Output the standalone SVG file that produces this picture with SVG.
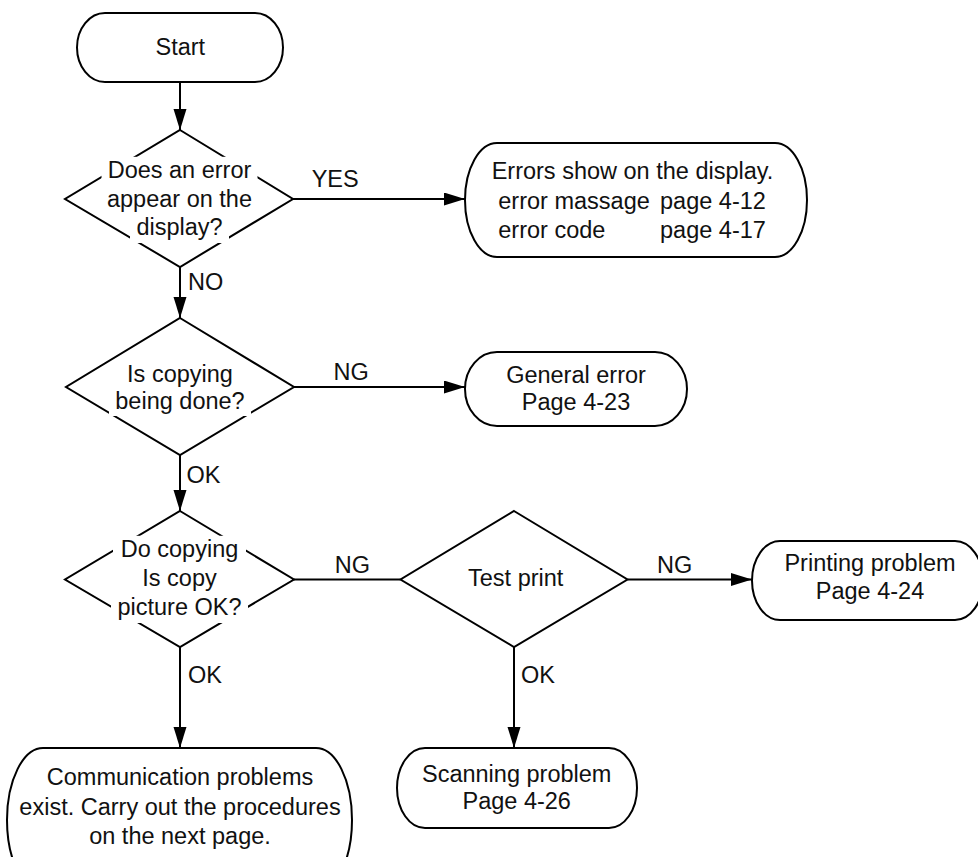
<svg xmlns="http://www.w3.org/2000/svg" width="978" height="857" viewBox="0 0 978 857">
<style>
.n{fill:#fff;stroke:#000;stroke-width:2}
.c{stroke:#000;stroke-width:2;fill:none}
.w{fill:#fff;stroke:none}
text{font-family:"Liberation Sans",Arial,Helvetica,sans-serif;font-size:23.5px;fill:#111}
.m{text-anchor:middle}
</style>
<defs>
<marker id="ah" markerUnits="userSpaceOnUse" markerWidth="22" markerHeight="14" refX="21" refY="6.5" orient="auto">
<path d="M0,0 L21,6.5 L0,13 z" fill="#000"/>
</marker>
</defs>
<rect width="978" height="857" fill="#fff"/>
<g id="connectors">
<line class="c" x1="180" y1="82" x2="180" y2="130" marker-end="url(#ah)"/>
<line class="c" x1="293" y1="199" x2="465" y2="199" marker-end="url(#ah)"/>
<line class="c" x1="180" y1="267" x2="180" y2="318" marker-end="url(#ah)"/>
<line class="c" x1="294" y1="387" x2="465" y2="387" marker-end="url(#ah)"/>
<line class="c" x1="180" y1="455" x2="180" y2="511" marker-end="url(#ah)"/>
<line class="c" x1="294" y1="579.5" x2="400.5" y2="579.5"/>
<line class="c" x1="627.5" y1="579.5" x2="752" y2="579.5" marker-end="url(#ah)"/>
<line class="c" x1="180" y1="647" x2="180" y2="748" marker-end="url(#ah)"/>
<line class="c" x1="514" y1="647" x2="514" y2="748" marker-end="url(#ah)"/>
<text x="311.7" y="187.3">YES</text>
<text x="188" y="290">NO</text>
<text x="333.5" y="380">NG</text>
<text x="186.5" y="483.3">OK</text>
<text x="334.8" y="572.7">NG</text>
<text x="657" y="573.3">NG</text>
<text x="188" y="683.3">OK</text>
<text x="521" y="683.3">OK</text>
</g>
<g id="start">
<rect class="n" x="77" y="13" width="206" height="69" rx="28" ry="34.5"/>
<text class="m" x="180.3" y="55">Start</text>
</g>
<g id="d1">
<polygon class="n" points="180,130 293,199 180,267 65,199"/>
<rect class="w" x="101.5" y="156.8" width="156" height="28.6"/>
<rect class="w" x="101" y="185.2" width="157" height="28.6"/>
<rect class="w" x="130" y="213" width="99" height="30"/>
<text class="m" x="179.5" y="178.3">Does an error</text>
<text class="m" x="179.5" y="206.7">appear on the</text>
<text class="m" x="179.5" y="234.5">display?</text>
</g>
<g id="errors">
<rect class="n" x="465" y="143" width="342" height="114" rx="32" ry="57"/>
<text class="m" x="632.5" y="179.3">Errors show on the display.</text>
<text y="209.3"><tspan x="498.3">error massage </tspan><tspan x="660">page 4-12</tspan></text>
<text y="238.3"><tspan x="498.3">error code </tspan><tspan x="660">page 4-17</tspan></text>
</g>
<g id="d2">
<polygon class="n" points="180,318 294,387 180,455 66,387"/>
<rect class="w" x="121" y="360.2" width="118" height="28.6"/>
<rect class="w" x="109" y="387.5" width="142" height="28.5"/>
<text class="m" x="180" y="381.7">Is copying</text>
<text class="m" x="180" y="409">being done?</text>
</g>
<g id="general">
<rect class="n" x="465" y="352" width="222" height="74" rx="32" ry="37"/>
<text class="m" x="576" y="382.7">General error</text>
<text class="m" x="576" y="410">Page 4-23</text>
</g>
<g id="d3">
<polygon class="n" points="180,511 294,579.5 180,647 65,579.5"/>
<rect class="w" x="113" y="535.8" width="133" height="28.8"/>
<rect class="w" x="136" y="564.5" width="87" height="28.6"/>
<rect class="w" x="111" y="593" width="137" height="30"/>
<text class="m" x="179.5" y="557.3">Do copying</text>
<text class="m" x="179.5" y="586">Is copy</text>
<text class="m" x="179.5" y="615">picture OK?</text>
</g>
<g id="testprint">
<polygon class="n" points="514,511 627.5,579.5 514,647 400.5,579.5"/>
<text class="m" x="515.7" y="586">Test print</text>
</g>
<g id="printing">
<rect class="n" x="752" y="541" width="231" height="79" rx="28" ry="39.5"/>
<text class="m" x="870" y="571">Printing problem</text>
<text class="m" x="870" y="599">Page 4-24</text>
</g>
<g id="communication">
<rect class="n" x="7" y="748" width="345" height="144" rx="36" ry="72"/>
<text class="m" x="180" y="785">Communication problems</text>
<text class="m" x="180" y="815">exist. Carry out the procedures</text>
<text class="m" x="180" y="844">on the next page.</text>
</g>
<g id="scanning">
<rect class="n" x="397" y="748" width="240" height="80" rx="28" ry="40"/>
<text class="m" x="516.7" y="781.7">Scanning problem</text>
<text class="m" x="516.7" y="809.3">Page 4-26</text>
</g>
</svg>
